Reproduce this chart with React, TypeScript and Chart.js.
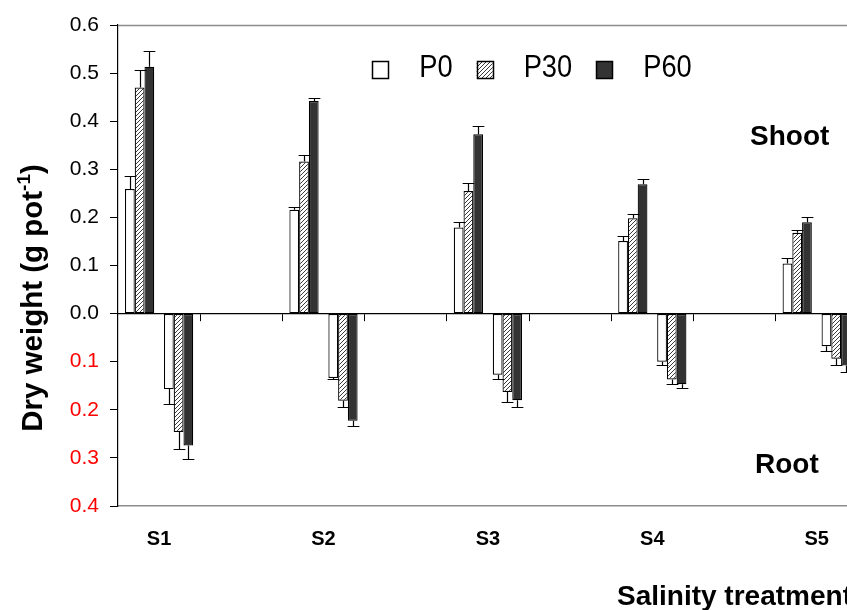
import React, { useEffect, useRef } from 'react';
import { Chart, registerables } from 'chart.js';

Chart.register(...registerables);

// Salinity treatments and phosphorus rates
const treatments = ['S1', 'S2', 'S3', 'S4', 'S5'];
const phosphorus = ['P0', 'P30', 'P60'];

// Shoot dry weight (g pot-1) and standard errors
const shootP0 = [0.259, 0.216, 0.179, 0.151, 0.104];
const shootP30 = [0.470, 0.316, 0.255, 0.198, 0.168];
const shootP60 = [0.513, 0.442, 0.373, 0.269, 0.190];
const shootP0Err = [0.028, 0.006, 0.011, 0.010, 0.011];
const shootP30Err = [0.036, 0.014, 0.017, 0.010, 0.006];
const shootP60Err = [0.032, 0.006, 0.017, 0.010, 0.011];

// Root dry weight (g pot-1) and standard errors, plotted below zero
const rootP0 = [0.157, 0.134, 0.127, 0.100, 0.068];
const rootP30 = [0.246, 0.181, 0.163, 0.137, 0.094];
const rootP60 = [0.274, 0.223, 0.180, 0.147, 0.108];
const rootP0Err = [0.030, 0.002, 0.009, 0.007, 0.010];
const rootP30Err = [0.035, 0.014, 0.021, 0.010, 0.012];
const rootP60Err = [0.029, 0.011, 0.015, 0.008, 0.013];

// Value axis range
const yMin = -0.4;
const yMax = 0.6;
const yStep = 0.1;

const FONT = "'Liberation Sans', Arial, sans-serif";

// each treatment is followed by an empty category slot
const labels = treatments.flatMap((t) => [t, '']);
const pad = (arr: (number | null)[]) => arr.flatMap((v) => [v, null]);

function makeHatch(): CanvasPattern | string {
  const c = document.createElement('canvas');
  c.width = 4;
  c.height = 4;
  const g = c.getContext('2d');
  if (!g) return '#bbbbbb';
  g.fillStyle = '#ffffff';
  g.fillRect(0, 0, 4, 4);
  g.strokeStyle = '#3a3a3a';
  g.lineWidth = 1;
  g.beginPath();
  g.moveTo(0, 4);
  g.lineTo(4, 0);
  g.moveTo(-1, 1);
  g.lineTo(1, -1);
  g.moveTo(3, 5);
  g.lineTo(5, 3);
  g.stroke();
  return g.createPattern(c, 'repeat') || '#bbbbbb';
}

// error bars pointing away from zero
const errorBars = {
  id: 'errorBars',
  afterDatasetsDraw(chart: any) {
    const { ctx } = chart;
    const y = chart.scales.y;
    chart.data.datasets.forEach((ds: any, i: number) => {
      if (!ds.errors) return;
      const meta = chart.getDatasetMeta(i);
      meta.data.forEach((bar: any, j: number) => {
        const v = ds.data[j];
        const e = ds.errors[j];
        if (v == null || e == null) return;
        const { x, y: yTop, width } = bar.getProps(['x', 'y', 'width'], true);
        const yEnd = y.getPixelForValue(v + Math.sign(v) * e);
        const cx = Math.round(x) + 0.5;
        const ye = Math.round(yEnd) + 0.5;
        const half = width / 2 + 1;
        ctx.save();
        ctx.strokeStyle = '#000';
        ctx.lineWidth = 1.2;
        ctx.beginPath();
        ctx.moveTo(cx, yTop);
        ctx.lineTo(cx, ye);
        ctx.moveTo(cx - half, ye);
        ctx.lineTo(cx + half, ye);
        ctx.stroke();
        ctx.restore();
      });
    });
  },
};

// gray frame line along the top of the plot area
const topFrame = {
  id: 'topFrame',
  beforeDatasetsDraw(chart: any) {
    const { ctx, chartArea } = chart;
    ctx.save();
    ctx.strokeStyle = '#8c8c8c';
    ctx.lineWidth = 1.5;
    ctx.beginPath();
    ctx.moveTo(chartArea.left, chartArea.top + 0.5);
    ctx.lineTo(chartArea.right, chartArea.top + 0.5);
    ctx.stroke();
    ctx.restore();
  },
};

// legend row drawn inside the plot area
const insideLegend = {
  id: 'insideLegend',
  afterDraw(chart: any) {
    const { ctx, chartArea } = chart;
    const boxW = 16;
    const boxH = 17;
    const gapText = 31;
    const gapItem = 24;
    const squeeze = 0.88;
    const boxTop = 61;
    const baseline = 77;
    ctx.save();
    ctx.font = `31px ${FONT}`;
    const items = phosphorus.map((name, k) => ({
      name,
      fill: chart.data.datasets[k].backgroundColor,
      tw: ctx.measureText(name).width * squeeze,
    }));
    const total =
      items.reduce((s, it) => s + boxW + gapText + it.tw, 0) + gapItem * (items.length - 1);
    let x = (chartArea.left + chartArea.right) / 2 - total / 2 + 3;
    items.forEach((it) => {
      ctx.fillStyle = it.fill;
      ctx.fillRect(x, boxTop, boxW, boxH);
      ctx.strokeStyle = '#000';
      ctx.lineWidth = 1.5;
      ctx.strokeRect(Math.round(x) + 0.5, boxTop + 0.5, boxW, boxH);
      ctx.save();
      ctx.translate(x + boxW + gapText, baseline);
      ctx.scale(squeeze, 1);
      ctx.fillStyle = '#000';
      ctx.textBaseline = 'alphabetic';
      ctx.fillText(it.name, 0, 0);
      ctx.restore();
      x += boxW + gapText + it.tw + gapItem;
    });
    ctx.restore();
  },
};

// axis titles and panel notes
const annotations = {
  id: 'annotations',
  afterDraw(chart: any) {
    const { ctx } = chart;
    ctx.save();
    ctx.fillStyle = '#000';
    ctx.textBaseline = 'alphabetic';
    ctx.font = `bold 28px ${FONT}`;
    ctx.fillText('Shoot', 750, 145);
    ctx.fillText('Root', 755, 473);
    ctx.fillText('Salinity treatment', 617, 605);

    // rotated value-axis title with superscript
    const main = 'Dry weight (g pot';
    const sup = '-1';
    const close = ')';
    const big = `bold 29.5px ${FONT}`;
    const small = `bold 19px ${FONT}`;
    ctx.font = big;
    const wMain = ctx.measureText(main).width;
    const wClose = ctx.measureText(close).width;
    ctx.font = small;
    const wSup = ctx.measureText(sup).width;
    const total = wMain + wSup + wClose;
    ctx.translate(42, 298);
    ctx.rotate(-Math.PI / 2);
    let x = -total / 2;
    ctx.font = big;
    ctx.fillText(main, x, 0);
    x += wMain;
    ctx.font = small;
    ctx.fillText(sup, x, -12);
    x += wSup;
    ctx.font = big;
    ctx.fillText(close, x, 0);
    ctx.restore();
  },
};

export default function App() {
  const ref = useRef<HTMLCanvasElement>(null);

  useEffect(() => {
    const canvas = ref.current;
    if (!canvas) return;
    const hatch = makeHatch();
    const fills: any[] = ['#ffffff', hatch, '#333333'];
    const shoot = [shootP0, shootP30, shootP60];
    const shootErr = [shootP0Err, shootP30Err, shootP60Err];
    const root = [rootP0, rootP30, rootP60];
    const rootErr = [rootP0Err, rootP30Err, rootP60Err];

    const barStyle = {
      borderColor: '#000000',
      borderWidth: 1.2,
      borderSkipped: false,
      categoryPercentage: 0.83,
      barPercentage: 1,
      xAxisID: 'x',
      yAxisID: 'y',
    };

    const datasets: any[] = [
      ...shoot.map((arr, k) => ({
        ...barStyle,
        label: `${phosphorus[k]} shoot`,
        data: pad(arr),
        errors: pad(shootErr[k]),
        backgroundColor: fills[k],
      })),
      // empty slot between shoot and root bars
      {
        ...barStyle,
        label: 'gap',
        data: pad(treatments.map(() => null)),
        backgroundColor: 'rgba(0,0,0,0)',
        borderWidth: 0,
      },
      ...root.map((arr, k) => ({
        ...barStyle,
        label: `${phosphorus[k]} root`,
        data: pad(arr.map((v) => -v)),
        errors: pad(rootErr[k]),
        backgroundColor: fills[k],
      })),
    ];

    const chart = new Chart(canvas, {
      type: 'bar',
      data: { labels, datasets },
      options: {
        animation: false,
        responsive: false,
        devicePixelRatio: 1,
        layout: { padding: { left: 0, top: 25, right: 20, bottom: 0 } },
        plugins: {
          legend: { display: false },
          tooltip: { enabled: false },
          title: { display: false },
        },
        scales: {
          x: {
            type: 'category',
            position: 'bottom',
            offset: true,
            grid: { offset: true, drawOnChartArea: false, drawTicks: false },
            border: { display: true, color: '#8c8c8c', width: 1.5 },
            ticks: {
              autoSkip: false,
              maxRotation: 0,
              padding: 21,
              color: '#000',
              font: { family: FONT, size: 20, weight: 'bold' },
            },
            afterFit: (s: any) => {
              s.height = 104;
            },
          },
          x0: {
            type: 'category',
            axis: 'x',
            position: { y: 0 },
            offset: true,
            grid: {
              offset: true,
              drawOnChartArea: false,
              drawTicks: true,
              tickLength: 7,
              color: '#000',
            },
            border: { display: true, color: '#000', width: 1.2 },
            ticks: { display: false },
          },
          y: {
            type: 'linear',
            min: yMin,
            max: yMax,
            grid: { drawOnChartArea: false, drawTicks: true, tickLength: 8, color: '#000' },
            border: { display: true, color: '#000', width: 1.2 },
            ticks: {
              stepSize: yStep,
              padding: 11,
              font: { family: FONT, size: 21 },
              color: (c: any) => (c.tick && c.tick.value < -1e-9 ? '#ff0000' : '#000000'),
              callback: (v: any) => Math.abs(Number(v)).toFixed(1),
            },
            afterFit: (s: any) => {
              s.width = 118;
            },
          },
        },
      } as any,
      plugins: [topFrame, errorBars, insideLegend, annotations],
    });

    return () => chart.destroy();
  }, []);

  return (
    <div
      style={{
        position: 'fixed',
        left: 0,
        top: 0,
        width: 847,
        height: 610,
        overflow: 'hidden',
        background: '#ffffff',
      }}
    >
      <canvas ref={ref} width={960} height={610} style={{ display: 'block' }} />
    </div>
  );
}
